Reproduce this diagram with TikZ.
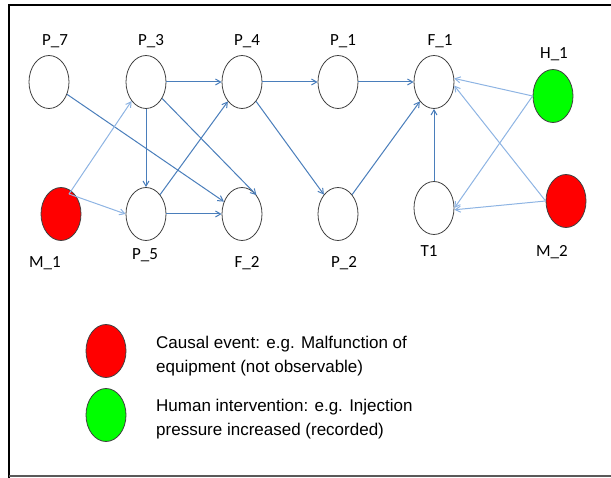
\documentclass[tikz,border=0pt]{standalone}
\usepackage{fontspec}
\setmainfont{Liberation Sans}
\newfontfamily\lblfont{Carlito}
\usetikzlibrary{arrows.meta,calc,shapes.geometric}
\definecolor{darkarr}{HTML}{4A7EBB}
\definecolor{lightarr}{HTML}{8EB4E3}
\definecolor{nodeline}{HTML}{404040}
\definecolor{redfill}{HTML}{FF0000}
\definecolor{greenfill}{HTML}{00FF00}
\begin{document}
\begin{tikzpicture}[x=1pt,y=-1pt,
  ev/.style={ellipse,draw=nodeline,line width=0.8pt,minimum width=40pt,minimum height=53pt,inner sep=0pt},
  lbl/.style={anchor=base,font=\lblfont\fontsize{17}{20}\selectfont,inner sep=0pt},
  darr/.style={draw=darkarr,line width=1pt,-{Straight Barb[angle=60:6pt]}},
  larr/.style={draw=lightarr,line width=1pt,-{Straight Barb[angle=60:6pt]}},
  legtext/.style={anchor=base west,font=\fontsize{17}{24}\selectfont,inner sep=0pt}]
\useasboundingbox (0,0) rectangle (611,478);
% frame
\draw[line width=2pt] (9,478) -- (9,5) -- (611,5);
\draw[color=black!65,line width=1.5pt] (9,476) -- (611,476);
% nodes
\node[ev] (P7) at (49,82) {};
\node[ev] (P3) at (146,82) {};
\node[ev] (P4) at (242,82) {};
\node[ev] (P1) at (338,82) {};
\node[ev] (F1) at (434,82) {};
\node[ev,fill=greenfill] (H1) at (553,96) {};
\node[ev,fill=redfill] (M1) at (61,214) {};
\node[ev] (P5) at (146,214) {};
\node[ev] (F2) at (242,214) {};
\node[ev] (P2) at (338,214) {};
\node[ev] (T1) at (434,208) {};
\node[ev,fill=redfill] (M2) at (566,201) {};
% labels
\node[lbl] (lP7) at (55,46) {P\_7};
\node[lbl] (lP3) at (151,46) {P\_3};
\node[lbl] (lP4) at (247,46) {P\_4};
\node[lbl] (lP1) at (343,46) {P\_1};
\node[lbl] (lF1) at (440,46) {F\_1};
\node[lbl] (lH1) at (554,59) {H\_1};
\node[lbl] (lM1) at (45,268) {M\_1};
\node[lbl] (lP5) at (145,260) {P\_5};
\node[lbl] (lF2) at (247,268) {F\_2};
\node[lbl] (lP2) at (344,268) {P\_2};
\node[lbl] (lT1) at (429,257) {T1};
\node[lbl] (lM2) at (552,257) {M\_2};
% connectors
\coordinate (m1s) at ($(M1.center)+(8,-20)$);
\draw[darr] (P7) -- (F2);
\draw[darr] (P3) -- (P4);
\draw[darr] (P3) -- (P5);
\draw[darr] (P3) -- (F2.north east);
\draw[larr] (m1s) -- (P3.south west);
\draw[larr] (m1s) -- (P5.west);
\draw[darr] (P5) -- (P4);
\draw[darr] (P5) -- (F2);
\draw[darr] (P4) -- (P1);
\draw[darr] (P4) -- (P2);
\draw[darr] (P1) -- (F1);
\draw[darr] (P2) -- (F1);
\draw[darr] (T1) -- (F1);
\draw[larr] (H1.west) -- (F1.10);
\draw[larr] (H1.west) -- (T1.east);
\draw[larr] (M2.west) -- (F1.-10);
\draw[larr] (M2.west) -- (T1.-5);
% legend
\node[ev,fill=redfill] (LR) at (106,351) {};
\node[ev,fill=greenfill] (LG) at (106,415) {};
\node[legtext] (t1) at (156,349) {Causal event: e.g. Malfunction of};
\node[legtext] (t2) at (156,373) {equipment (not observable)};
\node[legtext] (t3) at (156,412) {Human intervention: e.g. Injection};
\node[legtext] (t4) at (156,436) {pressure increased (recorded)};
\end{tikzpicture}
\end{document}
